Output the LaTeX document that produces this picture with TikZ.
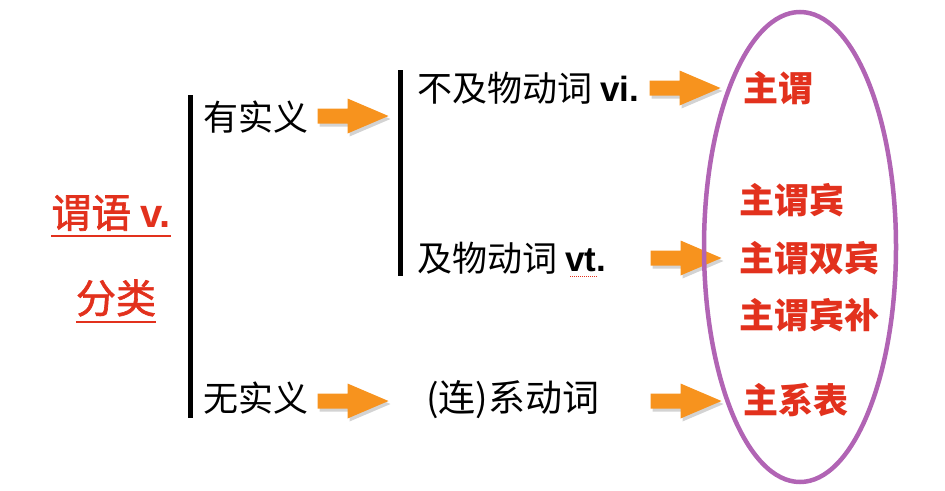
\documentclass[tikz,border=0pt]{standalone}
\usepackage{fontspec}
\setmainfont{Noto Sans CJK SC}
\newfontfamily\latn{Liberation Sans}
\newfontfamily\cjkmed{Noto Sans CJK SC}[FakeBold=1.6]
\usetikzlibrary{shapes.geometric,shadows}
\definecolor{ared}{HTML}{E2311D}
\definecolor{aorange}{HTML}{F7931E}
\definecolor{apurple}{HTML}{B164B4}
\tikzset{
  txt/.style={anchor=west,inner sep=0pt,font=\fontsize{35}{40}\selectfont},
  rtxt/.style={anchor=west,inner sep=0pt,text=ared,font=\fontsize{35}{40}\selectfont\bfseries},
  ltxt/.style={anchor=center,inner sep=0pt,text=ared,font=\fontsize{40}{46}\selectfont\cjkmed},
  oarrow/.style={fill=aorange,draw=none,
    drop shadow={opacity=0.35,shadow xshift=2pt,shadow yshift=-3pt}},
  bar/.style={line width=5pt,black},
  uline/.style={ared,line width=2pt}
}
\newcommand\orarrow[1]{\path[oarrow] (#1) ++(-35.5,-7.5) -- ++(30,0) -- ++(0,-10) -- ++(41,17.5) -- ++(-41,17.5) -- ++(0,-10) -- ++(-30,0) -- cycle;}
\begin{document}
\begin{tikzpicture}[x=1pt,y=-1pt]
\useasboundingbox (0,0) rectangle (945,490);
% left labels
\node[ltxt] (pred) at (111,213) {谓语 {\latn\bfseries v.}};
\node[ltxt] (cls) at (116,298) {分类};
\draw[uline] ([yshift=-5pt]pred.south west) -- ([yshift=-5pt]pred.south east);
\draw[uline] ([yshift=-5pt]cls.south west) -- ([yshift=-5pt]cls.south east);
% bars
\coordinate (b1t) at (190,95); \coordinate (b1b) at (190,418);
\draw[bar] (b1t) -- (b1b);
\coordinate (b2t) at (400,70); \coordinate (b2b) at (400,276);
\draw[bar] (b2t) -- (b2b);
% middle texts
\node[txt] (real) at (203,117) {有实义};
\node[txt] (noreal) at (203,398) {无实义};
\node[txt] (vi) at (417,88) {不及物动词 {\latn\bfseries vi.}};
\node[txt] (vt) at (417,258) {及物动词 {\latn\bfseries vt.}};
\node[txt,font=\fontsize{37}{42}\selectfont] (link) at (426,400) {(连)系动词};
\draw[ared,line width=1pt,densely dotted] ([xshift=-36pt,yshift=-2pt]vt.south east) -- ([xshift=-8pt,yshift=-2pt]vt.south east);
% arrows
\coordinate (a1) at (353,116); \orarrow{a1}
\coordinate (a2) at (685,88);  \orarrow{a2}
\coordinate (a3) at (686,258); \orarrow{a3}
\coordinate (a4) at (353,401); \orarrow{a4}
\coordinate (a5) at (686,401); \orarrow{a5}
% red results
\node[rtxt] (r1) at (743,88) {主谓};
\node[rtxt] (r2) at (739,200) {主谓宾};
\node[rtxt] (r3) at (739,258) {主谓双宾};
\node[rtxt] (r4) at (739,315) {主谓宾补};
\node[rtxt] (r5) at (743,400) {主系表};
% ellipse
\node[draw=apurple,line width=4.5pt,ellipse,minimum width=192pt,minimum height=470pt,inner sep=0pt] (ell) at (800,247) {};
\end{tikzpicture}
\end{document}
